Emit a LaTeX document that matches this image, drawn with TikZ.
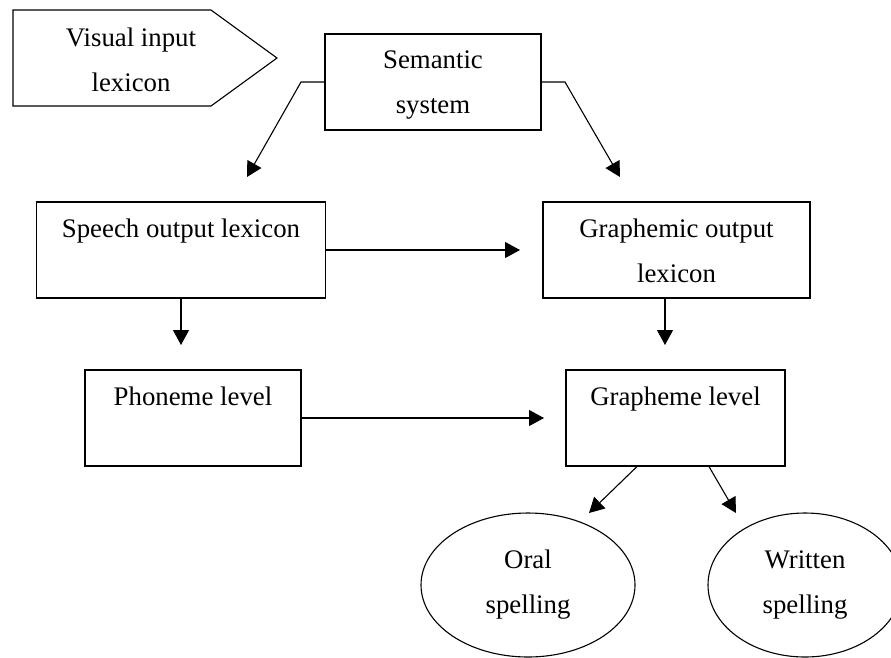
\documentclass[tikz,border=0pt]{standalone}
\usepackage{fontspec}
\setmainfont{Liberation Serif}
\usetikzlibrary{arrows.meta,shapes.geometric}
\begin{document}
\begin{tikzpicture}[x=1pt, y=-1pt,
    line width=1.1pt,
    font=\fontsize{26.8}{45}\selectfont,
    box/.style={draw, rectangle, inner sep=0pt, minimum height=96pt},
    boxtext/.style={anchor=north, align=center, inner sep=0pt, yshift=-17pt},
    oval/.style={draw, ellipse, inner sep=0pt, align=center, minimum height=144pt},
    arr/.style={-{Triangle[length=15pt,width=16pt]}}]
    \useasboundingbox (0,0) rectangle (891,657);

    % visual input lexicon (arrow shaped box)
    \draw (13,10) -- (211,10) -- (277,58) -- (211,106) -- (13,106) -- cycle;
    \node[boxtext] (visual) at (131,10) {Visual input\\lexicon};

    % boxes
    \node[box, minimum width=216pt,
          label={[boxtext]north:{Semantic\\system}}] (semantic) at (433,82) {};
    \node[box, minimum width=289pt,
          label={[boxtext]north:{Speech output lexicon}}] (speech) at (181,250) {};
    \node[box, minimum width=267pt,
          label={[boxtext]north:{Graphemic output\\lexicon}}] (graphemic) at (676.5,250) {};
    \node[box, minimum width=216pt,
          label={[boxtext]north:{Phoneme level}}] (phoneme) at (193,418) {};
    \node[box, minimum width=219pt,
          label={[boxtext]north:{Grapheme level}}] (grapheme) at (675.5,418) {};

    % outputs
    \node[oval, minimum width=214pt] (oral) at (528,585) {Oral\\spelling};
    \node[oval, minimum width=194pt] (written) at (805,585) {Written\\spelling};

    % free arrow ends
    \coordinate (semL) at (301,82);
    \coordinate (semR) at (565,82);
    \coordinate (speechIn) at (247,177);
    \coordinate (graphIn) at (620,177);
    \coordinate (crossIn) at (520,250);
    \coordinate (phonIn) at (181,345);
    \coordinate (grphIn) at (665,345);
    \coordinate (levelIn) at (544,418);
    \coordinate (oralIn) at (589,513);
    \coordinate (writtenIn) at (736,513);

    \draw[arr] (semantic.west) -- (semL) -- (speechIn);
    \draw[arr] (semantic.east) -- (semR) -- (graphIn);
    \draw[arr] (speech.east) -- (crossIn);
    \draw[arr] (speech.south) -- (phonIn);
    \draw[arr] (graphemic.south -| grphIn) -- (grphIn);
    \draw[arr] (phoneme.east) -- (levelIn);
    \draw[arr] ([xshift=-38.5pt]grapheme.south) -- (oralIn);
    \draw[arr] ([xshift=33.5pt]grapheme.south) -- (writtenIn);
\end{tikzpicture}
\end{document}
